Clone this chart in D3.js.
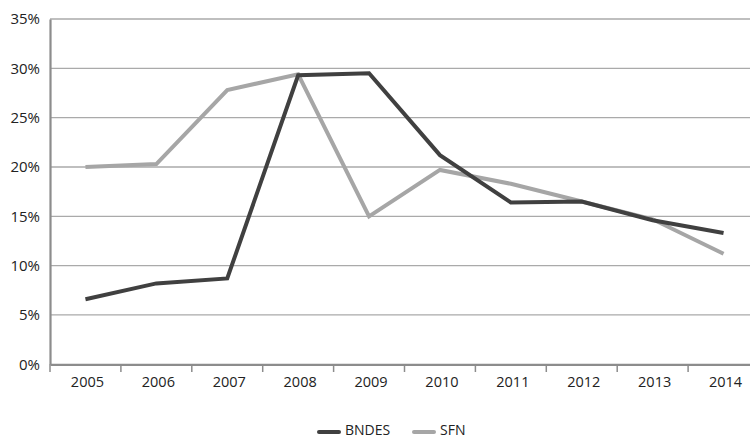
<!DOCTYPE html>
<html><head><meta charset="utf-8">
<script src="https://cdn.jsdelivr.net/npm/d3@7"></script>
<style>body{margin:0;background:#fff}svg{display:block}</style>
</head><body>
<script>
const years = ["2005","2006","2007","2008","2009","2010","2011","2012","2013","2014"];
const bndes = [6.6, 8.2, 8.7, 29.3, 29.5, 21.2, 16.4, 16.5, 14.6, 13.3];
const sfn = [20.0, 20.3, 27.8, 29.4, 15.0, 19.7, 18.3, 16.5, 14.7, 11.2];
const yTicks = [0,5,10,15,20,25,30,35];
const seriesNames = ["BNDES","SFN"];
const colors = ["#404040","#a6a6a6"];

const W=750,H=439;
const svg=d3.select("body").append("svg").attr("width",W).attr("height",H);
const font="'Open Sans', sans-serif";
const x=d3.scaleBand().domain(years).range([50,759]);
const y=d3.scaleLinear().domain([0,35]).range([364.3,19]);

// gridlines
svg.append("g").selectAll("line").data(yTicks.filter(d=>d>0)).join("line")
 .attr("x1",50).attr("x2",W).attr("y1",d=>y(d)).attr("y2",d=>y(d))
 .attr("stroke","#aaaaaa").attr("stroke-width",1.3);

// y axis
const ya=svg.append("g").attr("transform","translate(50,0)")
 .call(d3.axisLeft(y).tickValues(yTicks).tickFormat(d=>d+"%").tickSize(0).tickPadding(10));
ya.select(".domain").attr("stroke","#8c8c8c").attr("stroke-width",2.2);
ya.selectAll("text").attr("font-family",font).attr("font-size",15).attr("fill","#222");

// x axis
const xa=svg.append("g").attr("transform","translate(0,364.3)")
 .call(d3.axisBottom(x).tickSize(0).tickPadding(12));
xa.select(".domain").attr("stroke","#8c8c8c").attr("stroke-width",2.2);
xa.selectAll("text").attr("font-family",font).attr("font-size",14.5).attr("fill","#222")
 .attr("dx",2);
// band boundary ticks
svg.append("g").selectAll("line").data(years).join("line")
 .attr("x1",d=>x(d)).attr("x2",d=>x(d)).attr("y1",364.3).attr("y2",372)
 .attr("stroke","#8c8c8c").attr("stroke-width",1.5);

const cx=d=>x(d)+x.bandwidth()/2;
const line=d3.line().x(d=>cx(d.year)).y(d=>y(d.v));
[sfn,bndes].forEach(arr=>{
  const idx = arr===bndes?0:1;
  svg.append("path").datum(years.map((yr,j)=>({year:yr,v:arr[j]})))
   .attr("d",line).attr("fill","none").attr("stroke",colors[idx])
   .attr("stroke-width",4).attr("stroke-linejoin","miter");
});

// legend
const leg=svg.append("g");
const legItems=[{n:seriesNames[0],c:colors[0],x:319},{n:seriesNames[1],c:colors[1],x:414}];
legItems.forEach(it=>{
  leg.append("line").attr("x1",it.x).attr("x2",it.x+20).attr("y1",432).attr("y2",432)
   .attr("stroke",it.c).attr("stroke-width",4).attr("stroke-linecap","round");
  leg.append("text").attr("x",it.x+26).attr("y",434.5).text(it.n)
   .attr("font-family",font).attr("font-size",14).attr("fill","#222");
});
</script>
</body></html>
